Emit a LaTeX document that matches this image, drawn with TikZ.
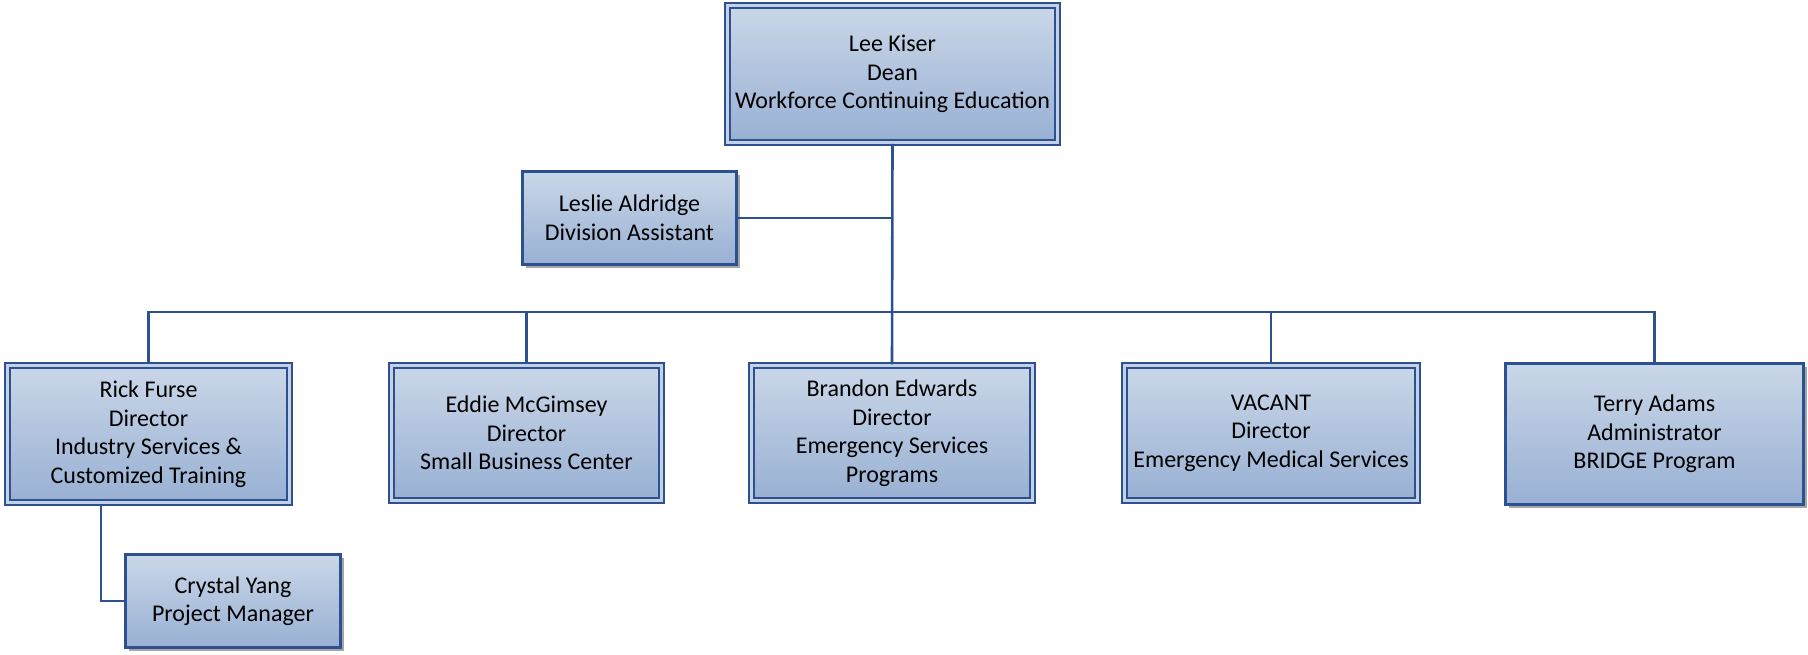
\documentclass[tikz,border=0pt]{standalone}
\usepackage{fontspec}
\setmainfont{Carlito}
\usetikzlibrary{shadows}
\definecolor{bordc}{HTML}{2C5090}
\definecolor{topc}{HTML}{CAD7E8}
\definecolor{botc}{HTML}{98B0D3}
\definecolor{gapc}{HTML}{C3D1E5}
\tikzset{
  base/.style={rectangle, top color=topc, bottom color=botc, draw=bordc, align=center,
    font=\fontsize{24}{28.5}\selectfont, text=black, inner sep=0pt,
    drop shadow={shadow xshift=3pt, shadow yshift=-3pt, fill=black, opacity=0.35}},
  dbox/.style={base, line width=2.5pt, double=gapc, double distance=2.5pt},
  sbox/.style={base, line width=2.5pt},
  conn/.style={draw=bordc, line width=2.6pt}
}
\begin{document}
\begin{tikzpicture}[x=1pt,y=-1pt]
\useasboundingbox (0,0) rectangle (1808,654);
\node[dbox, minimum width=330pt, minimum height=137pt] (top) at (892.5,74) {Lee Kiser\\Dean\\Workforce Continuing Education};
\node[sbox, minimum width=214pt, minimum height=93pt] (leslie) at (629.5,218) {Leslie Aldridge\\Division Assistant};
\node[dbox, minimum width=282pt, minimum height=137pt] (rick) at (148.5,434) {Rick Furse\\Director\\Industry Services \&\\Customized Training};
\node[dbox, minimum width=270pt, minimum height=135pt] (eddie) at (526.5,433) {Eddie McGimsey\\Director\\Small Business Center};
\node[dbox, minimum width=281pt, minimum height=135pt] (brandon) at (892,433) {Brandon Edwards\\Director\\Emergency Services\\Programs};
\node[dbox, minimum width=293pt, minimum height=135pt] (vacant) at (1271,433) {VACANT\\Director\\Emergency Medical Services};
\node[sbox, minimum width=298pt, minimum height=141pt] (terry) at (1654.5,434) {Terry Adams\\Administrator\\BRIDGE Program};
\node[sbox, minimum width=215pt, minimum height=93pt] (crystal) at (233,601) {Crystal Yang\\Project Manager};
\coordinate (bus) at (892.5,312);
\draw[conn] (top.south) -- (brandon.north);
\draw[conn] (leslie.east) -- (leslie.east -| top.south);
\draw[conn] (rick.north) |- (bus) -| (terry.north);
\draw[conn] (eddie.north) -- (eddie.north |- bus);
\draw[conn] (vacant.north) -- (vacant.north |- bus);
\draw[conn] ([xshift=-47.5pt]rick.south) |- (crystal.west);
\end{tikzpicture}
\end{document}
